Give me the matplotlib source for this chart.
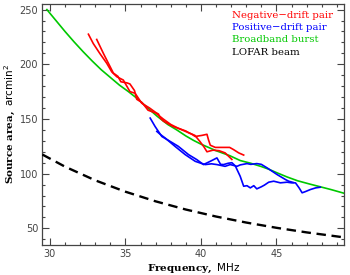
import matplotlib
matplotlib.use("Agg")
import matplotlib.pyplot as plt
from matplotlib.ticker import MultipleLocator

plt.rcParams['mathtext.fontset'] = 'custom'
plt.rcParams['mathtext.bf'] = 'DejaVu Serif:bold'
plt.rcParams['mathtext.rm'] = 'DejaVu Sans'
plt.rcParams['mathtext.it'] = 'DejaVu Sans:italic'

# Negative-drift pair (two curves)
neg1_f = [32.55, 32.87, 33.3, 33.76, 34.1, 34.43, 34.86, 35.3, 35.64, 36.08, 36.6, 37.0,
          37.19, 37.3, 37.52, 38.18, 38.6, 39.0, 39.18, 39.4, 39.62, 40.07, 40.4, 40.5,
          40.62, 40.95, 41.3, 41.61, 41.9, 42.16, 42.5, 42.83]
neg1_a = [227.5, 219, 210, 201, 193, 188.6, 185.6, 175, 173.5, 164.4, 160, 156,
          154.5, 151, 148, 143, 141, 139, 137.5, 136, 134, 135, 136, 131,
          126, 124, 124, 124, 124, 122, 119, 117]
neg2_f = [33.1, 33.54, 33.98, 34.2, 34.5, 34.7, 35.1, 35.3, 35.6, 35.75, 36.1, 36.5,
          37.0, 37.5, 38.0, 38.5, 39.0, 39.6, 39.9, 40.2, 40.4, 40.8, 41.2, 41.6, 42.05]
neg2_a = [222.7, 210, 198, 192, 189, 184, 183, 182, 176, 168, 165, 158,
          155.5, 150, 145, 141.5, 138.5, 135, 130, 124.5, 120, 121.5, 121, 119, 113]

# Positive-drift pair (two curves)
pos1_f = [36.64, 36.97, 37.41, 37.96, 38.5, 39.18, 39.73, 40.17, 40.62, 41.06, 41.3, 41.5,
          41.8, 42.05, 42.28, 42.6, 42.83, 43.05, 43.27, 43.5, 43.7, 44.0, 44.2, 44.49,
          44.82, 45.26, 45.7, 46.0, 46.26, 46.5, 46.7, 46.9, 47.25, 47.6, 47.9]
pos1_a = [150.8, 143, 134, 129.5, 125, 117.4, 112.8, 108.3, 111.3, 114.4, 108.5, 108.3,
          109.5, 110, 107, 97.6, 88.5, 89, 87, 89, 86.1, 88, 89.5, 92.2,
          93.1, 91.6, 92.2, 91.6, 91.6, 87, 82.5, 83.5, 85.5, 87, 87.6]
pos2_f = [37.08, 37.3, 37.63, 38.29, 38.96, 39.62, 40.0, 40.29, 40.7, 41.06, 41.6, 41.94,
          42.39, 42.6, 43.05, 43.3, 43.7, 44.0, 44.38, 45.04, 45.6, 45.81, 46.1]
pos2_a = [138.6, 136, 132.6, 124.9, 117.4, 111.3, 109.5, 108.3, 109, 108.3, 106.7, 108.3,
          106.7, 108, 109.2, 108.5, 109.2, 108.5, 105.3, 99.2, 94.6, 93.1, 92.0]

# Broadband burst
bb_f = [29.8, 30.4, 31.0, 31.6, 32.2, 32.8, 33.4, 34.0, 34.6, 35.2, 35.8, 36.4, 37.1, 37.8,
        38.4, 39.0, 39.5, 40.0, 41.0, 41.9, 42.6, 43.3, 44.0, 44.5, 45.0, 45.7, 46.4, 47.2,
        47.9, 48.6, 49.5]
bb_a = [250, 240, 230, 220.5, 211.5, 203, 195, 188, 181, 175, 168.5, 161, 152.5, 145,
        140, 134.5, 130.5, 127, 121, 116.5, 112, 109.5, 106.5, 104, 101, 97, 93.5, 90.5,
        88, 85.5, 82]

# LOFAR beam
beam_f = [29.5, 31, 33, 35, 37, 39, 41, 43, 45, 47, 49.5]
beam_a = [117.5, 106.4, 93.9, 83.5, 74.7, 67.2, 60.8, 55.3, 50.5, 46.3, 41.7]

legend_labels = ["Negative\u2212drift pair", "Positive\u2212drift pair", "Broadband burst", "LOFAR beam"]
RED, BLUE, GREEN, BLACK = '#ff0000', '#0000ff', '#00c800', '#000000'
legend_colors = [RED, BLUE, GREEN, BLACK]

fig = plt.figure(figsize=(3.5, 2.75), dpi=100)
ax = fig.add_axes([0.121, 0.110, 0.863, 0.875])

lw = 1.2
ax.plot(bb_f, bb_a, color=GREEN, lw=lw, zorder=2)
ax.plot(neg1_f, neg1_a, color=RED, lw=lw, zorder=3)
ax.plot(neg2_f, neg2_a, color=RED, lw=lw, zorder=3)
ax.plot(pos1_f, pos1_a, color=BLUE, lw=lw, zorder=3)
ax.plot(pos2_f, pos2_a, color=BLUE, lw=lw, zorder=3)
ax.plot(beam_f, beam_a, color=BLACK, lw=1.7, dashes=(4.0, 2.4), zorder=3)

ax.set_xlim(29.5, 49.5)
ax.set_ylim(35, 255)
ax.xaxis.set_major_locator(MultipleLocator(5))
ax.xaxis.set_minor_locator(MultipleLocator(1))
ax.yaxis.set_major_locator(MultipleLocator(50))
ax.yaxis.set_minor_locator(MultipleLocator(10))
ax.tick_params(which='both', direction='in', top=True, right=True, color='#444444', width=0.8)
ax.tick_params(which='major', length=5, labelsize=7, labelcolor='#444444', pad=3)
ax.tick_params(which='minor', length=2.5)
for s in ax.spines.values():
    s.set_color('#444444')
    s.set_linewidth(0.9)

ax.set_xlabel(r"$\mathbf{Frequency,}$ MHz", fontsize=7.5, family='DejaVu Sans', labelpad=2)
ax.set_ylabel(r"$\mathbf{Source\ area,}$ arcmin$^2$", fontsize=7.5, family='DejaVu Sans', labelpad=2)

y0 = 0.951
for i, (lab, col) in enumerate(zip(legend_labels, legend_colors)):
    ax.text(0.628, y0 - i * 0.05, lab, color=col, transform=ax.transAxes,
            fontsize=7.3, family='DejaVu Serif', va='center', ha='left')

fig.savefig("out.png", dpi=100)
